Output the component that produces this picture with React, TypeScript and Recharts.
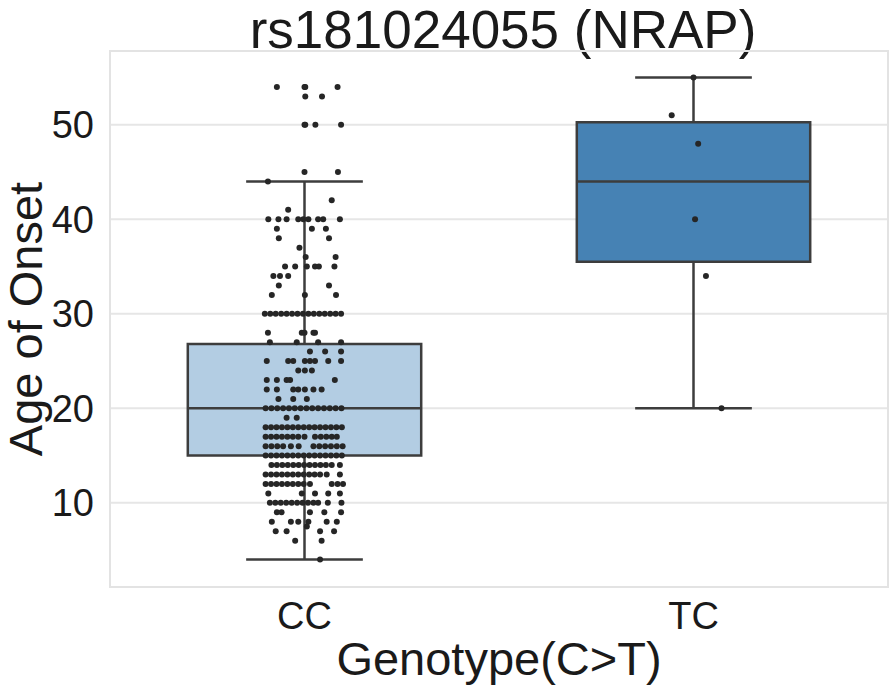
import React from 'react';
import {
  ComposedChart, Scatter, XAxis, YAxis, CartesianGrid, ReferenceArea, ReferenceLine, Label
} from 'recharts';

// genotype groups on the x axis
const genotypes = ['CC', 'TC'];
const yTicks = [10, 20, 30, 40, 50];

// box plot summaries: [lower whisker, Q1, median, Q3, upper whisker]
const ccBox = [4, 15, 20, 26.8, 44];
const tcBox = [20, 35.5, 44, 50.25, 55];

// CC strip points: age -> jitter offsets (hundredths of a category)
const ccRows: [number, number[]][] = [
  [54, [-7.1, 0, 0.2, 8.5]],
  [53, [0.2, 4.5]],
  [50, [0, 0.2, 2.8, 9.4]],
  [45, [0, 8.6]],
  [44, [-9.4]],
  [42, [7.0]],
  [41, [-4.2]],
  [40, [-9.3, -6.7, -4.6, -1.6, -0.3, 1.0, 3.5, 4.8, 9.1]],
  [39, [-7.1, 1.9, 5.5]],
  [38, [-6.6, 6.3]],
  [37, [-1.3]],
  [36, [0.3, 8.0]],
  [35, [-5.0, -2.4, 0.6, 2.7, 3.7, 7.7]],
  [34, [-8.0, -6.3, -4.2]],
  [33, [-6.6, 6.3]],
  [32, [-8.4, 0.1, 8.1]],
  [30, [-10.2, -8.8, -7.4, -6.0, -4.6, -3.2, -1.8, -0.4, 1.0, 2.4, 3.8, 5.2, 6.6, 8.0, 9.4]],
  [28, [-9.4, -0.7, 0, 2.3, 2.7]],
  [27, [-8.9, -2.0, 3.5, 9.4]],
  [26, [1.4, 5.3, 9.4]],
  [25, [-9.7, -4.2, -2.9, 0.1, 1.4, 2.7, 6.1, 9.4]],
  [24, [-1.6, 0.1, 1.9]],
  [23, [-9.7, -7.1, -4.6, -3.7, 7.8]],
  [22, [-9.7, -7.1, -2.9, -1.6, 0.1, 2.3, 4.4]],
  [21, [-6.7, -2.9, 0.6]],
  [20, [-10, -8.5, -7, -5.5, -4, -2.5, -1, 0.5, 2, 3.5, 5, 6.5, 8, 9.5]],
  [19, [-4.6, -2.0]],
  [18, [-10, -8.6, -7.2, -5.8, -4.4, -3, -1.6, -0.2, 1.2, 2.6, 4, 5.4, 6.8, 8.2, 9.6]],
  [17, [-10, -8.6, -7.2, -5.8, -4.4, -3, -1.6, 0, 2.7, 4.2, 5.6, 7.0, 8.3]],
  [16, [-10, -8.5, -7, -5.5, -3.5, -1.5, 2.3, 3.8, 5.3, 6.8, 8.3, 9.8]],
  [15, [-10, -8.6, -7.2, -5.8, -4.4, -3, -1.6, -0.2, 1.2, 2.6, 4, 5.4, 6.8, 8.2, 9.6]],
  [14, [-8.5, -7.1, -5.7, -4.3, -2.9, -1.5, -0.1, 1.3, 2.7, 4.1, 5.5, 7.0, 9.1]],
  [13, [-10, -8.6, -7.2, -5.8, -4.4, -3, -1.6, -0.2, 1.2, 2.6, 4, 5.7, 9.1]],
  [12, [-10, -8.6, -7.2, -5.8, -4.4, -3, -1.6, -0.2, 1.4, 7.0, 8.5, 9.9]],
  [11, [-9.3, -0.7, 2.7, 6.1, 9.1]],
  [10, [-8.9, -7.5, -6.1, -4.7, -3.3, -1.9, -0.5, 0.9, 2.3, 3.5, 6.0, 9.5]],
  [9, [-7.1, -5.9, 1.4, 5.1, 9.4]],
  [8, [-8.4, -3.5, -1.6, 1.0, 5.7, 8.3]],
  [7.5, [0.6]],
  [7, [-7.4, -4.6, 4.0, 7.6]],
  [6, [-2.4, 4.4]],
  [4, [4.0]],
];

// TC strip points: age, jitter
const tcAges = [55, 51, 48, 40, 34, 20];
const tcJitter = [0, -5.6, 1.2, 0.4, 3.2, 7.2];

const points = [
  ...ccRows.flatMap(([age, js]) => js.map((j) => ({ x: 0 + j / 100, y: age }))),
  ...tcAges.map((age, i) => ({ x: 1 + tcJitter[i] / 100, y: age })),
];

const EDGE = '#3d3d3d';
const FONT = '"Liberation Sans", Arial, sans-serif';
const BOX_HALF = 0.3;
const CAP_HALF = 0.15;

const Dot = (props: any) => <circle cx={props.cx} cy={props.cy} r={3} fill="#262626" />;

function renderBox(idx: number, stats: number[], fill: string) {
  const [lo, q1, med, q3, hi] = stats;
  return [
    <ReferenceLine key={`wl${idx}`} segment={[{ x: idx, y: lo }, { x: idx, y: q1 }]} stroke={EDGE} strokeWidth={2.5} />,
    <ReferenceLine key={`wh${idx}`} segment={[{ x: idx, y: q3 }, { x: idx, y: hi }]} stroke={EDGE} strokeWidth={2.5} />,
    <ReferenceLine key={`cl${idx}`} segment={[{ x: idx - CAP_HALF, y: lo }, { x: idx + CAP_HALF, y: lo }]} stroke={EDGE} strokeWidth={2.5} />,
    <ReferenceLine key={`ch${idx}`} segment={[{ x: idx - CAP_HALF, y: hi }, { x: idx + CAP_HALF, y: hi }]} stroke={EDGE} strokeWidth={2.5} />,
    <ReferenceArea key={`b${idx}`} x1={idx - BOX_HALF} x2={idx + BOX_HALF} y1={q1} y2={q3}
      fill={fill} fillOpacity={1} stroke={EDGE} strokeWidth={2.5} />,
    <ReferenceLine key={`m${idx}`} segment={[{ x: idx - BOX_HALF, y: med }, { x: idx + BOX_HALF, y: med }]} stroke={EDGE} strokeWidth={2.5} />,
  ];
}

export default function App() {
  return (
    <div style={{ position: 'absolute', left: 0, top: 0, width: 894, height: 689, background: '#fff', fontFamily: FONT }}>
      <div style={{ position: 'absolute', left: 0, width: 1006, top: 0, textAlign: 'center', fontSize: 53, lineHeight: '59px', color: '#1a1a1a' }}>
        rs181024055 (NRAP)
      </div>
      <ComposedChart width={894} height={689} data={points} margin={{ top: 51, right: 6, bottom: 0, left: 0 }}>
        <CartesianGrid vertical={false} stroke="#e6e6e6" strokeWidth={2} />
        <ReferenceArea x1={-0.5} x2={1.5} y1={1.1} y2={57.8} fill="none" stroke="#e3e3e3" strokeWidth={2} />
        <XAxis type="number" dataKey="x" domain={[-0.5, 1.5]} ticks={[0, 1]} allowDataOverflow
          tickFormatter={(v: number) => genotypes[Math.round(v)]} height={102}
          axisLine={false} tickLine={false} tickSize={0} tickMargin={15}
          tick={{ fontSize: 38, fill: '#1a1a1a', fontFamily: FONT }}>
          <Label value="Genotype(C>T)" position="insideBottom" offset={14}
            style={{ fontSize: 47, fill: '#1a1a1a', fontFamily: FONT }} />
        </XAxis>
        <YAxis type="number" dataKey="y" domain={[1.1, 57.8]} ticks={yTicks} allowDataOverflow width={110}
          axisLine={false} tickLine={false} tickSize={0} tickMargin={16}
          tick={{ fontSize: 38, fill: '#1a1a1a', fontFamily: FONT }}>
          <Label value="Age of Onset" angle={-90} position="insideLeft" offset={25}
            style={{ textAnchor: 'middle', fontSize: 47, fill: '#1a1a1a', fontFamily: FONT }} />
        </YAxis>
        {renderBox(0, ccBox, '#b3cde3')}
        {renderBox(1, tcBox, '#4682b4')}
        <Scatter data={points} dataKey="y" shape={Dot} isAnimationActive={false} />
      </ComposedChart>
    </div>
  );
}
